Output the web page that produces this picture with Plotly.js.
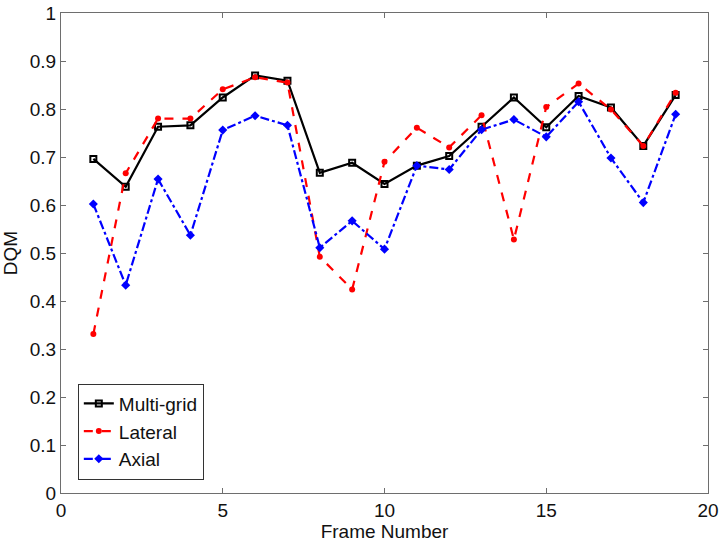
<!DOCTYPE html>
<html>
<head>
<meta charset="utf-8">
<script src="https://cdn.plot.ly/plotly-3.0.1.min.js"></script>
<style>
  html, body { margin: 0; padding: 0; background: #fff; }
  #chart { width: 725px; height: 542px; }
</style>
</head>
<body>
<div id="chart"></div>
<script>
// frame numbers and DQM values
const frames = [1, 2, 3, 4, 5, 6, 7, 8, 9, 10, 11, 12, 13, 14, 15, 16, 17, 18, 19];
const multiGrid = [0.696, 0.638, 0.763, 0.766, 0.824, 0.870, 0.859, 0.667, 0.688, 0.644,
                   0.682, 0.702, 0.763, 0.824, 0.762, 0.827, 0.803, 0.723, 0.829];
const lateral = [0.331, 0.666, 0.780, 0.780, 0.841, 0.866, 0.855, 0.492, 0.424, 0.690,
                 0.761, 0.720, 0.787, 0.528, 0.804, 0.853, 0.799, 0.723, 0.834];
const axial = [0.602, 0.433, 0.654, 0.537, 0.756, 0.786, 0.766, 0.511, 0.567, 0.508,
               0.682, 0.674, 0.757, 0.778, 0.742, 0.815, 0.698, 0.605, 0.789];
const seriesNames = ['Multi-grid', 'Lateral', 'Axial'];

const FONT = 'Liberation Sans, Arial, sans-serif';
const AXIS_COLOR = '#6e6e6e';

const traces = [
  {
    x: frames, y: multiGrid, name: seriesNames[0],
    type: 'scatter', mode: 'lines+markers',
    line: { color: '#000000', width: 2.2, dash: 'solid' },
    marker: { symbol: 'square-open', size: 6, color: '#000000', line: { width: 2, color: '#000000' } }
  },
  {
    x: frames, y: lateral, name: seriesNames[1],
    type: 'scatter', mode: 'lines+markers',
    line: { color: '#ff0000', width: 2.2, dash: 'dash' },
    marker: { symbol: 'circle', size: 6, color: '#ff0000' }
  },
  {
    x: frames, y: axial, name: seriesNames[2],
    type: 'scatter', mode: 'lines+markers',
    line: { color: '#0000ff', width: 2.2, dash: 'dashdot' },
    marker: { symbol: 'diamond', size: 7, color: '#0000ff' }
  }
];

const axisBase = {
  showline: true,
  linecolor: AXIS_COLOR,
  linewidth: 1,
  mirror: 'ticks',
  ticks: 'inside',
  ticklen: 5,
  tickcolor: AXIS_COLOR,
  showgrid: false,
  zeroline: false,
  tickfont: { size: 19, family: FONT, color: '#111' }
};

const layout = {
  width: 725,
  height: 542,
  margin: { l: 61, r: 17, t: 13, b: 49 },
  paper_bgcolor: '#ffffff',
  plot_bgcolor: '#ffffff',
  font: { family: FONT, color: '#111' },
  xaxis: Object.assign({}, axisBase, {
    range: [0, 20],
    tickvals: [0, 5, 10, 15, 20],
    title: { text: 'Frame Number', font: { size: 19, family: FONT }, standoff: 1 }
  }),
  yaxis: Object.assign({}, axisBase, {
    range: [0, 1],
    dtick: 0.1,
    tick0: 0,
    title: { text: 'DQM', font: { size: 19, family: FONT }, standoff: 8 }
  }),
  showlegend: true,
  legend: {
    x: 0.026,
    y: 0.228,
    xanchor: 'left',
    yanchor: 'top',
    bgcolor: '#ffffff',
    bordercolor: '#333333',
    borderwidth: 1,
    itemwidth: 30,
    tracegroupgap: 0,
    font: { size: 19, family: FONT, color: '#111' }
  }
};

Plotly.newPlot('chart', traces, layout, { displayModeBar: false, staticPlot: true });
</script>
</body>
</html>
